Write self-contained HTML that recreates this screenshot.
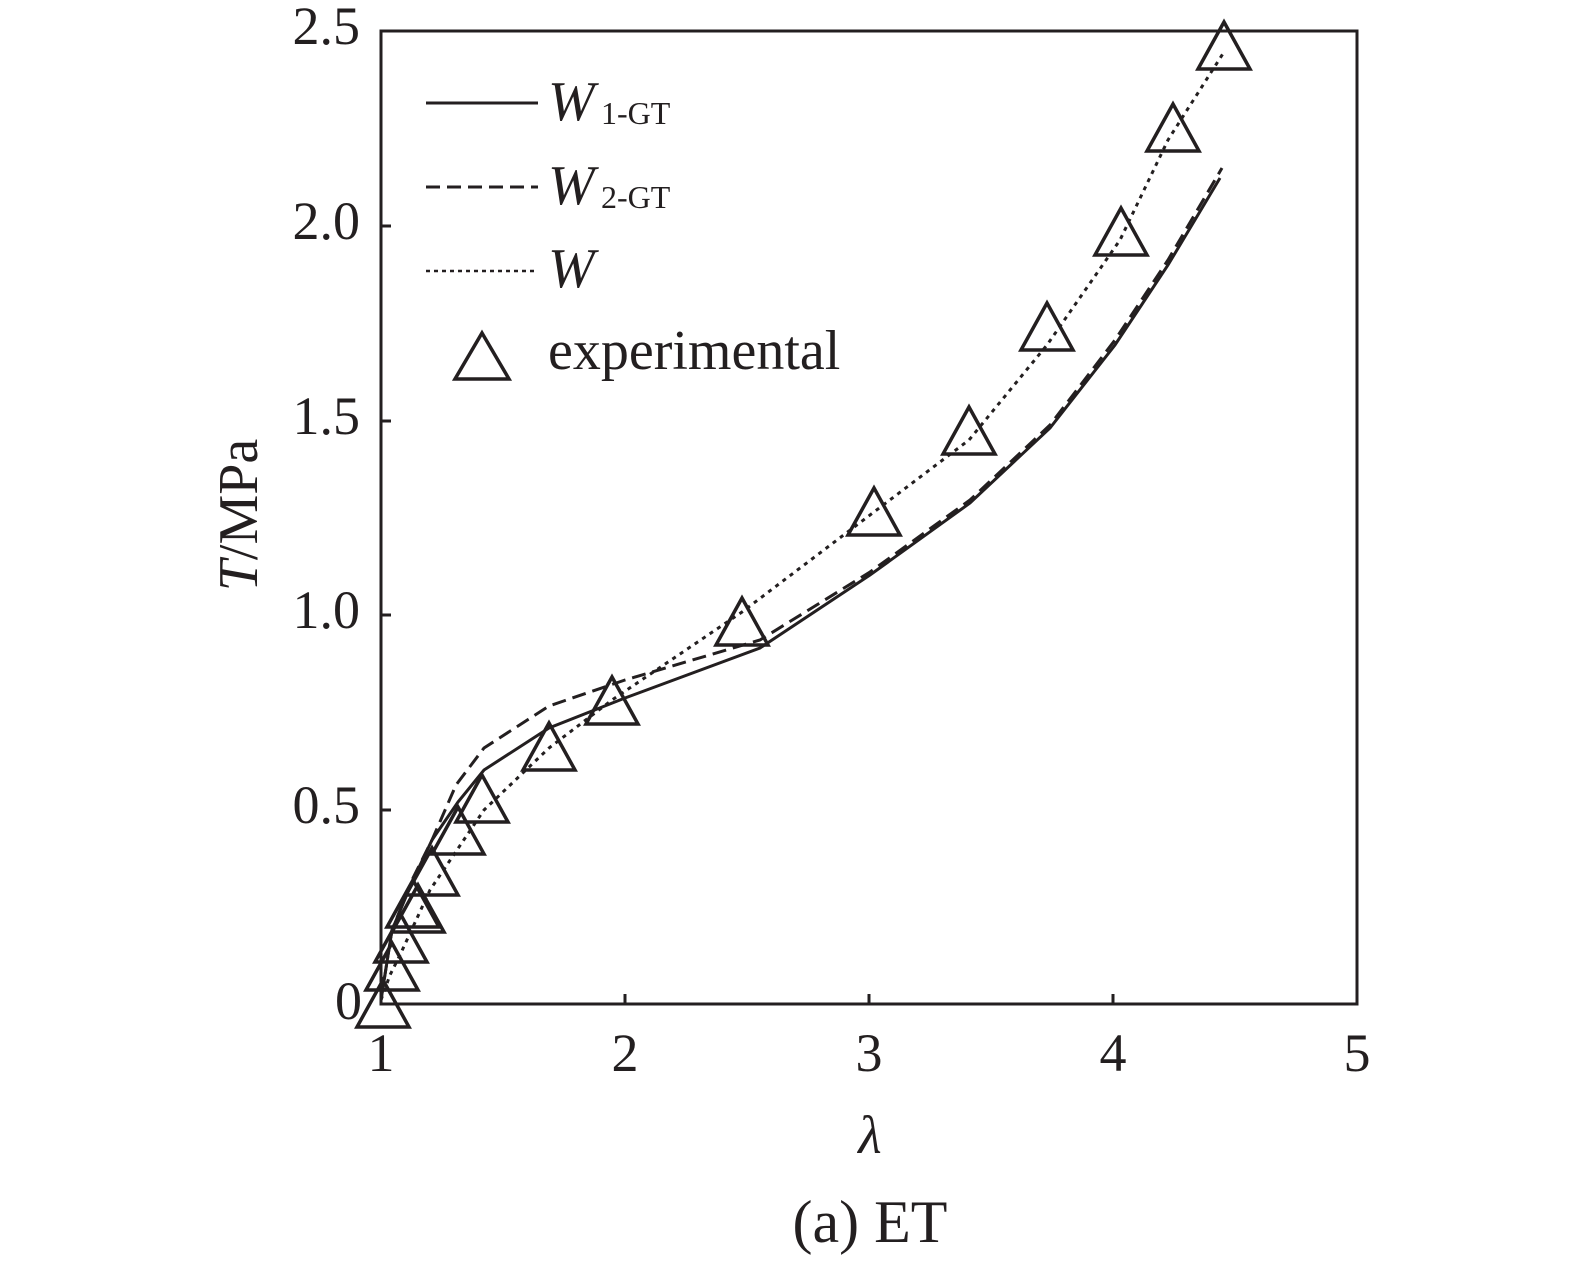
<!DOCTYPE html>
<html><head><meta charset="utf-8"><style>
html,body{margin:0;padding:0;background:#fff;}
svg text{font-family:"Liberation Serif",serif;fill:#231f20;}
</style></head><body>
<svg width="1575" height="1262" viewBox="0 0 1575 1262" xmlns="http://www.w3.org/2000/svg">
<g stroke="#231f20" fill="none" stroke-width="3">
<rect x="381" y="31" width="976" height="973"/>
<path d="M381 226h10M381 421h10M381 615h10M381 810h10M625 1004v-10M869 1004v-10M1113 1004v-10"/>
</g>
<g font-size="54" text-anchor="end">
<text x="360" y="44">2.5</text>
<text x="360" y="239">2.0</text>
<text x="360" y="434">1.5</text>
<text x="360" y="628">1.0</text>
<text x="360" y="823">0.5</text>
<text x="362" y="1019">0</text>
</g>
<g font-size="54" text-anchor="middle">
<text x="381" y="1071">1</text>
<text x="625" y="1071">2</text>
<text x="869" y="1071">3</text>
<text x="1113" y="1071">4</text>
<text x="1357" y="1071">5</text>
<text x="870" y="1153" font-style="italic">λ</text>
<text x="870" y="1242" font-size="60">(a) ET</text>
</g>
<text transform="translate(257,515) rotate(-90)" font-size="56" text-anchor="middle"><tspan font-style="italic">T</tspan>/MPa</text>
<g fill="none" stroke="#231f20" stroke-width="3">
<polyline points="381,1000 392,930 413,880 432,840 458,802 484,770 549,728 625,698 760,648 870,575 970,503 1050,428 1115,345 1168,265 1220,178"/>
<polyline stroke-dasharray="14,7" points="381,1000 392,930 413,878 432,840 456,785 484,748 549,706 625,680 760,640 870,572 970,500 1050,425 1115,340 1168,260 1222,168"/>
<polyline stroke-dasharray="4,5" points="381,1000 390,975 400,955 430,890 484,810 549,748 612,700 742,612 874,512 969,440 1047,345 1120,240 1168,140 1224,52"/>
</g>
<g fill="none" stroke="#231f20" stroke-width="3.5">
<path d="M383 980l26 47h-52z"/>
<path d="M392 943l26 47h-52z"/>
<path d="M401 915l26 47h-52z"/>
<path d="M413 880l26 47h-52z"/>
<path d="M418 885l26 47h-52z"/>
<path d="M432 848l26 47h-52z"/>
<path d="M458 807l26 47h-52z"/>
<path d="M482 775l26 47h-52z"/>
<path d="M549 723l26 47h-52z"/>
<path d="M612 677l26 47h-52z"/>
<path d="M742 598l26 47h-52z"/>
<path d="M874 488l26 47h-52z"/>
<path d="M969 407l26 47h-52z"/>
<path d="M1047 303l26 47h-52z"/>
<path d="M1121 208l26 47h-52z"/>
<path d="M1173 104l26 47h-52z"/>
<path d="M1224 22l26 47h-52z"/>
</g>
<g stroke="#231f20" stroke-width="3" fill="none">
<line x1="426" y1="103" x2="538" y2="103"/>
<line x1="426" y1="187" x2="538" y2="187" stroke-dasharray="14,7"/>
<line x1="426" y1="271" x2="538" y2="271" stroke-width="2.5" stroke-dasharray="4,4"/>
<path d="M482 333l27 46h-54z" stroke-width="3.5"/>
</g>
<g font-size="56">
<text x="548" y="120" font-style="italic">W</text><text x="601" y="124" font-size="32">1-GT</text>
<text x="548" y="204" font-style="italic">W</text><text x="601" y="208" font-size="32">2-GT</text>
<text x="548" y="287" font-style="italic">W</text>
<text x="548" y="369">experimental</text>
</g>
</svg>
</body></html>
